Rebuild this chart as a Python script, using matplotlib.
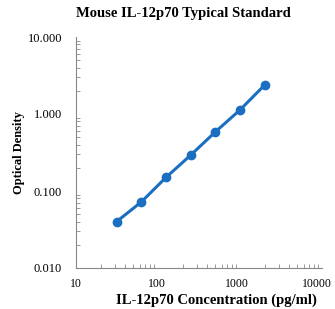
import numpy as np
import matplotlib.pyplot as plt
import matplotlib.transforms as mtransforms
from matplotlib.ticker import LogLocator, FormatStrFormatter, NullFormatter

conc = [31.25, 62.5, 125, 250, 500, 1000, 2000]
od = [0.040, 0.072, 0.150, 0.292, 0.585, 1.13, 2.38]
x_ticks = [10, 100, 1000, 10000]

plt.rcParams['font.family'] = ['Liberation Serif', 'DejaVu Serif']

fig = plt.figure(figsize=(3.35, 3.09), dpi=100)
ax = fig.add_axes([76/335, 1 - 268/309, 246/335, 231/309])

ax.plot(conc, od, color="#1a6fc0", lw=2.2, marker="o", ms=6)
ax.set_xscale("log")
ax.set_yscale("log")
ax.set_xlim(10, 10000)
ax.set_ylim(0.01, 10)

ax.yaxis.set_major_formatter(FormatStrFormatter("%.3f"))
ax.xaxis.set_minor_locator(LogLocator(base=10, subs=np.arange(2, 10)))
ax.yaxis.set_minor_locator(LogLocator(base=10, subs=np.arange(2, 10)))
ax.xaxis.set_major_formatter(NullFormatter())
ax.xaxis.set_minor_formatter(NullFormatter())
ax.yaxis.set_minor_formatter(NullFormatter())

# x tick labels drift left the way Excel places them
shift = [0, -1, -3, -5]
for v, dx in zip(x_ticks, shift):
    tr = ax.get_xaxis_transform() + mtransforms.ScaledTranslation(dx / 100, -7 / 72, fig.dpi_scale_trans)
    ax.text(v, 0, str(v), transform=tr, ha="center", va="top", fontsize=8.5)

for s in ["top", "right"]:
    ax.spines[s].set_visible(False)
for s in ["left", "bottom"]:
    ax.spines[s].set_color("#888888")
    ax.spines[s].set_linewidth(0.8)

ax.tick_params(which="both", direction="in", colors="#888888", labelcolor="black")
ax.tick_params(which="major", length=0)
ax.tick_params(axis="y", which="major", labelsize=9, pad=10)
ax.tick_params(which="minor", length=3, width=0.6)

fig.text(183/335, 1 - 14/309, "Mouse IL-12p70 Typical Standard", fontsize=10.5,
         fontweight="bold", ha="center", va="center")
fig.text(216/335, 1 - 300/309, "IL-12p70 Concentration (pg/ml)", fontsize=10.5,
         fontweight="bold", ha="center", va="center")
fig.text(19/335, 1 - 153/309, "Optical Density", fontsize=9, fontweight="bold",
         ha="center", va="center", rotation=90)

fig.savefig("out.png", dpi=100)
